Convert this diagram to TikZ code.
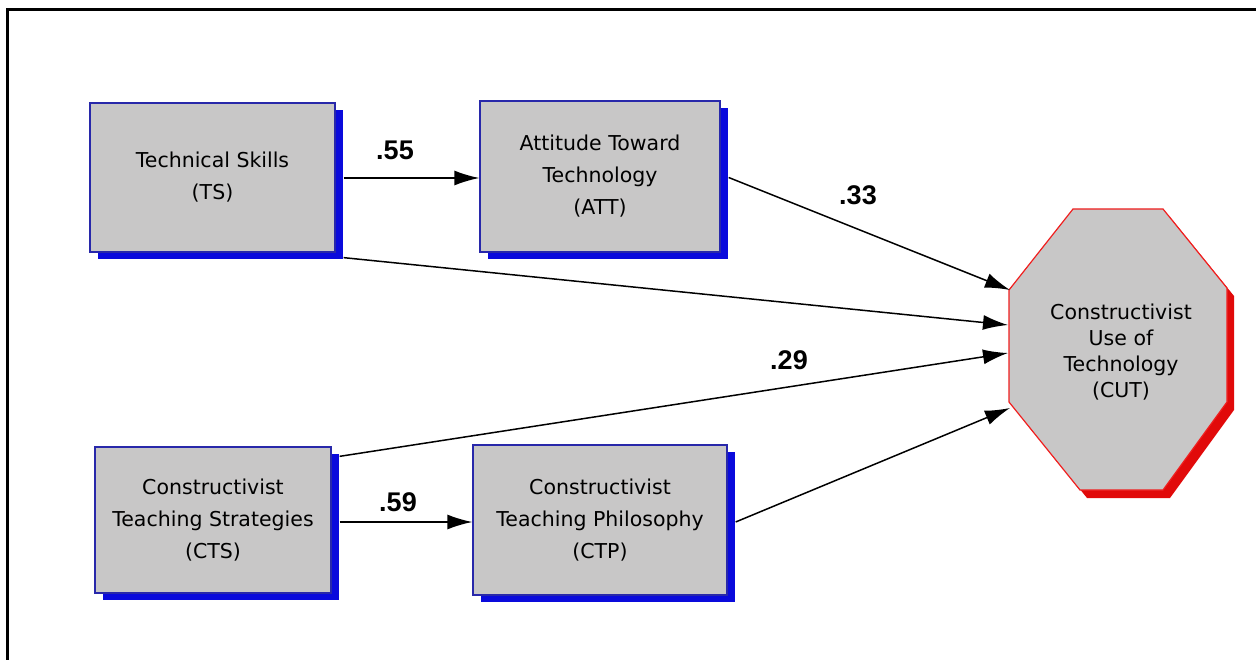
\documentclass[tikz,border=0pt]{standalone}
\usepackage{fontspec}
\setmainfont{DejaVu Sans}
\newfontfamily\labelfont{Liberation Sans}
\usetikzlibrary{arrows.meta,shadows}
\definecolor{boxgrey}{RGB}{200,199,199}
\definecolor{boxedge}{RGB}{40,40,170}
\definecolor{shadowblue}{RGB}{10,10,220}
\definecolor{shadowred}{RGB}{225,10,10}
\definecolor{octedge}{RGB}{240,30,30}
\tikzset{
  varbox/.style={draw=boxedge, line width=1.3pt, fill=boxgrey, align=center,
    font=\fontsize{20.5}{32}\selectfont, inner sep=0pt,
    copy shadow={shadow xshift=8pt, shadow yshift=-7pt, fill=shadowblue, draw=none}},
  conn/.style={line width=1.5pt, -{Latex[length=25pt,width=15pt]}},
  coef/.style={font=\labelfont\bfseries\fontsize{27}{27}\selectfont, inner sep=0pt}
}
\begin{document}
\begin{tikzpicture}[x=1pt,y=-1pt]
\useasboundingbox (0,0) rectangle (1256,660);
% outer frame
\draw[line width=3pt] (7.5,670) -- (7.5,10) -- (1266,10);
% boxes
\node[varbox, minimum width=245pt, minimum height=149pt] (ts) at (212.5,177.5) {Technical Skills\\(TS)};
\node[varbox, minimum width=240pt, minimum height=151pt] (att) at (600,176.5) {Attitude Toward\\Technology\\(ATT)};
\node[varbox, minimum width=236pt, minimum height=146pt] (cts) at (213,520) {Constructivist\\Teaching Strategies\\(CTS)};
\node[varbox, minimum width=254pt, minimum height=150pt] (ctp) at (600,520) {Constructivist\\Teaching Philosophy\\(CTP)};
% octagon
\fill[shadowred, shift={(7,8)}] (1073,209) -- (1163,209) -- (1227,288) -- (1227,402) -- (1163,490) -- (1080,490) -- (1009,402) -- (1009,290) -- cycle;
\draw[octedge, line width=1.2pt, fill=boxgrey] (1073,209) -- (1163,209) -- (1227,288) -- (1227,402) -- (1163,490) -- (1080,490) -- (1009,402) -- (1009,290) -- cycle;
\node[align=center, font=\fontsize{20.5}{26}\selectfont] (cut) at (1121,352) {Constructivist\\Use of\\Technology\\(CUT)};
\coordinate (cutA) at (1010,290);
\coordinate (cutB) at (1008,325);
\coordinate (cutC) at (1008,353);
\coordinate (cutD) at (1010,408);
% connectors
\draw[conn] ([xshift=8pt]ts.east |- 0,178) -- (att.west |- 0,178);
\draw[conn] ([xshift=8pt,yshift=-1pt]att.east) -- (cutA);
\draw[conn] ([xshift=8pt,yshift=-5pt]ts.south east) -- (cutB);
\draw[conn] ([xshift=8pt,yshift=-10pt]cts.north east) -- (cutC);
\draw[conn] ([xshift=8pt]cts.east |- 0,522) -- (ctp.west |- 0,522);
\draw[conn] ([xshift=8pt,yshift=-2pt]ctp.east) -- (cutD);
% coefficients
\node[coef] (c55) at (395,150) {.55};
\node[coef] (c33) at (858,195) {.33};
\node[coef] (c29) at (789,360) {.29};
\node[coef] (c59) at (398,502) {.59};
\end{tikzpicture}
\end{document}
